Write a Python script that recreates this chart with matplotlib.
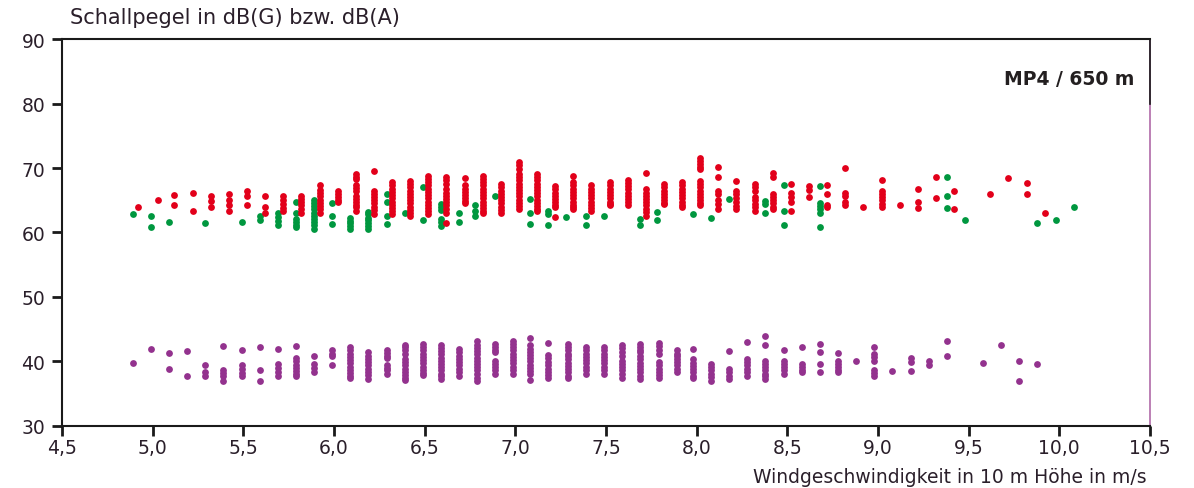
import matplotlib.pyplot as plt

# Schallpegel-Messungen, je Windgeschwindigkeitsklasse eine Spalte
red_x = [4.92, 5.03, 5.12, 5.22, 5.32, 5.42, 5.52, 5.62, 5.72, 5.82, 5.92, 6.02,
         6.12, 6.22, 6.32, 6.42, 6.52, 6.62, 6.72, 6.82, 6.92, 7.02, 7.12, 7.22,
         7.32, 7.42, 7.52, 7.62, 7.72, 7.82, 7.92, 8.02, 8.12, 8.22, 8.32, 8.42,
         8.52, 8.62, 8.72, 8.82, 8.92, 9.02, 9.12, 9.22, 9.32, 9.42, 9.62, 9.72,
         9.82, 9.92]
red_y = [
    [63.9],
    [65.1],
    [65.8, 64.3],
    [66.2, 63.3],
    [65.7, 64.9, 64.0],
    [65.9, 65.1, 64.2, 63.3],
    [66.4, 65.7, 64.3],
    [65.6, 64.0, 63.0],
    [65.6, 65.0, 64.4, 63.8, 63.4],
    [65.7, 65.2, 64.7, 64.2, 63.7, 63.1],
    [67.3, 66.6, 66.2, 65.6, 65.1, 64.6, 64.1, 63.6, 63.1],
    [66.5, 66.0, 65.5, 65.0, 64.7],
    [69.0, 68.6, 68.3, 67.4, 66.9, 66.5, 65.7, 65.2, 64.8, 64.3, 63.9, 63.4],
    [69.5, 66.5, 66.0, 65.5, 65.0, 64.5, 64.0, 63.5, 62.9],
    [67.8, 67.3, 66.8, 66.3, 65.8, 65.3, 64.8, 64.3, 63.8, 63.4, 62.9],
    [68.0, 67.5, 67.0, 66.5, 66.0, 65.5, 65.0, 64.5, 64.0, 63.5, 63.0, 62.6],
    [68.8, 68.3, 67.8, 67.3, 66.8, 66.3, 65.8, 65.3, 64.8, 64.3, 63.8, 63.3, 62.9],
    [68.6, 68.1, 67.5, 66.7, 66.2, 65.7, 65.2, 64.7, 64.2, 63.7, 63.1, 61.5],
    [68.4, 67.3, 66.8, 66.3, 65.8, 65.3, 64.9, 64.5],
    [68.8, 68.3, 67.8, 67.3, 66.8, 66.3, 65.8, 65.3, 64.8, 64.3, 63.8, 63.4, 63.1],
    [67.5, 67.0, 66.5, 66.0, 65.5, 65.0, 64.5, 64.0, 63.5, 63.1],
    [70.9, 70.4, 69.9, 69.1, 68.6, 68.1, 67.6, 67.1, 66.6, 66.1, 65.6, 65.1, 64.6,
     64.1, 63.6],
    [69.1, 68.6, 68.1, 67.6, 67.1, 66.6, 66.1, 65.6, 65.1, 64.6, 64.1, 63.7, 63.4],
    [67.2, 66.7, 66.2, 65.7, 65.2, 64.7, 64.3, 64.0, 62.4],
    [68.8, 67.8, 67.3, 66.8, 66.3, 65.8, 65.3, 64.8, 64.3, 63.9, 63.6],
    [67.3, 66.8, 66.3, 65.8, 65.3, 64.8, 64.3, 63.8, 63.4],
    [67.8, 67.3, 66.8, 66.3, 65.8, 65.3, 64.8, 64.4, 64.2],
    [68.2, 67.7, 67.2, 66.7, 66.2, 65.7, 65.2, 64.7, 64.2],
    [69.2, 66.7, 66.2, 65.7, 65.2, 64.7, 64.2, 63.7, 63.2, 62.6],
    [67.5, 67.0, 66.5, 66.0, 65.5, 65.0, 64.6, 64.4],
    [67.8, 67.3, 66.8, 66.3, 65.8, 65.3, 64.8, 64.3, 63.9],
    [71.5, 71.1, 70.7, 70.2, 69.8, 68.0, 67.5, 67.0, 66.5, 66.0, 65.5, 65.0, 64.6,
     64.2],
    [70.1, 68.6, 66.5, 66.0, 65.0, 64.4, 63.7],
    [68.0, 66.5, 65.9, 65.3, 64.7, 64.1, 63.6],
    [67.5, 67.0, 66.5, 65.5, 65.0, 64.4, 63.9, 63.4],
    [69.3, 68.6, 66.0, 65.5, 65.0, 64.5, 64.0, 63.6],
    [67.5, 66.2, 65.5, 64.7, 63.3],
    [67.2, 66.6, 65.5],
    [67.4, 66.0, 64.2, 63.9],
    [70.0, 66.2, 65.7, 64.7, 64.2],
    [63.9],
    [68.1, 66.5, 66.0, 65.5, 65.0, 64.4, 63.9],
    [64.2],
    [66.7, 64.8, 63.8],
    [68.6, 65.4],
    [66.5, 63.6],
    [66.0],
    [68.4],
    [67.7, 66.0],
    [63.0],
]

green_x = [4.89, 4.99, 5.09, 5.29, 5.49, 5.59, 5.69, 5.79, 5.89, 5.99, 6.09, 6.19,
           6.29, 6.39, 6.49, 6.59, 6.69, 6.78, 6.89, 7.08, 7.18, 7.28, 7.39, 7.49,
           7.69, 7.78, 7.98, 8.08, 8.18, 8.38, 8.48, 8.68, 9.38, 9.48, 9.88, 9.98,
           10.08]
green_y = [
    [62.8],
    [62.6, 60.9],
    [61.7],
    [61.4],
    [61.7],
    [62.6, 61.9],
    [63.0, 62.4, 61.8, 61.1],
    [64.8, 63.1, 62.1, 61.7, 61.2, 60.8],
    [65.0, 64.6, 64.1, 63.6, 63.1, 62.6, 62.1, 61.6, 61.1, 60.6],
    [64.5, 62.6, 61.3],
    [62.2, 61.8, 61.4, 61.0, 60.5],
    [63.2, 62.8, 62.3, 61.9, 61.4, 61.0, 60.6],
    [65.9, 64.8, 62.6, 61.3],
    [63.0],
    [67.1, 62.0],
    [64.4, 64.0, 63.5, 62.1, 61.6, 61.0],
    [63.1, 61.6],
    [64.3, 63.4, 62.5],
    [65.7],
    [65.2, 63.1, 61.3],
    [63.4, 62.9, 61.1],
    [62.4],
    [62.5, 61.2],
    [62.5],
    [62.1, 61.2],
    [63.2, 62.0],
    [62.9],
    [62.3],
    [65.2],
    [64.9, 64.4, 63.1],
    [67.4, 63.3, 61.2],
    [67.2, 64.6, 64.1, 63.6, 63.1, 60.8],
    [68.6, 65.6, 63.8],
    [62.0],
    [61.4],
    [62.0],
    [63.9],
]

purple_x = [4.89, 4.99, 5.09, 5.19, 5.29, 5.39, 5.49, 5.59, 5.69, 5.79, 5.89, 5.99,
            6.09, 6.19, 6.29, 6.39, 6.49, 6.59, 6.69, 6.79, 6.89, 6.99, 7.08, 7.18,
            7.29, 7.39, 7.49, 7.59, 7.69, 7.79, 7.89, 7.98, 8.08, 8.18, 8.28, 8.38,
            8.48, 8.58, 8.68, 8.78, 8.88, 8.98, 9.08, 9.18, 9.28, 9.38, 9.58, 9.68,
            9.78, 9.88]
purple_y = [
    [39.7],
    [41.9],
    [41.3, 38.8],
    [41.6, 37.7],
    [39.5, 38.4, 37.7],
    [42.4, 38.7, 38.2, 37.8, 37.0],
    [41.8, 39.4, 38.8, 38.2, 37.7],
    [42.2, 38.7, 37.0],
    [42.0, 39.6, 39.0, 38.4, 37.7],
    [42.4, 40.5, 40.0, 39.5, 39.0, 38.5, 38.0, 37.7],
    [40.8, 39.6, 39.0, 38.3],
    [41.7, 41.2, 40.9, 39.5],
    [42.2, 41.7, 41.2, 40.7, 40.2, 39.7, 39.2, 38.7, 38.2, 37.8, 37.4],
    [41.4, 40.9, 40.4, 39.9, 39.4, 38.9, 38.4, 37.9, 37.3],
    [41.8, 41.3, 40.9, 40.6, 39.5, 39.0, 38.6, 38.1],
    [42.6, 42.2, 41.7, 41.2, 40.4, 39.9, 39.4, 38.9, 38.4, 37.9, 37.5, 37.1],
    [42.7, 42.2, 41.7, 41.2, 40.7, 40.2, 39.7, 39.2, 38.7, 38.2, 37.9],
    [42.6, 42.1, 41.6, 41.1, 40.6, 40.1, 39.6, 39.1, 38.6, 38.1, 37.7, 37.3],
    [41.9, 41.4, 40.9, 40.4, 39.9, 39.4, 38.9, 38.4, 37.8],
    [43.1, 42.6, 42.1, 41.6, 41.1, 40.6, 40.1, 39.6, 39.1, 38.6, 38.1, 37.5, 37.0],
    [42.7, 42.3, 41.8, 41.4, 40.1, 39.6, 39.1, 38.6, 38.1],
    [43.2, 42.7, 42.2, 41.7, 41.2, 40.7, 40.2, 39.7, 39.2, 38.7, 38.1],
    [43.7, 42.5, 42.0, 41.5, 41.0, 40.5, 40.0, 39.5, 39.0, 38.5, 38.1, 37.1],
    [42.8, 41.0, 40.6, 39.9, 39.4, 38.9, 38.4, 37.9, 37.5],
    [42.7, 42.2, 41.7, 41.2, 40.8, 40.3, 39.8, 39.3, 38.8, 38.3, 37.8, 37.4],
    [42.2, 41.7, 41.2, 40.7, 40.2, 39.7, 39.2, 38.7, 38.1],
    [42.2, 41.7, 41.2, 40.7, 40.2, 39.7, 39.2, 38.7, 38.1],
    [42.6, 42.1, 41.5, 40.9, 40.1, 39.6, 39.1, 38.6, 38.1, 37.5],
    [42.7, 42.2, 41.8, 41.4, 40.8, 40.3, 39.8, 39.3, 38.8, 38.3, 37.8, 37.3],
    [42.9, 42.4, 41.8, 41.2, 39.9, 39.4, 38.9, 38.4, 37.9, 37.5],
    [41.7, 41.2, 40.8, 40.4, 39.9, 39.4, 38.9, 38.4],
    [42.0, 40.3, 39.8, 39.3, 38.8, 38.3, 37.8, 37.5],
    [39.6, 39.1, 38.6, 38.1, 37.6, 37.0],
    [41.6, 38.8, 38.3, 37.8, 37.3],
    [43.0, 40.4, 39.9, 39.4, 38.9, 38.4, 37.8],
    [44.0, 42.5, 40.1, 39.6, 39.1, 38.6, 38.1, 37.7, 37.3],
    [41.8, 40.1, 39.6, 39.1, 38.6, 38.1],
    [42.3, 39.6, 39.1, 38.7, 38.3],
    [42.7, 41.5, 39.6, 38.3],
    [41.3, 40.1, 39.6, 39.1, 38.7, 38.3],
    [40.0],
    [42.2, 41.2, 40.7, 40.1, 38.6, 38.2, 37.8],
    [38.5],
    [40.6, 39.9, 38.5],
    [40.1, 39.5],
    [43.1, 40.8],
    [39.7],
    [42.5],
    [40.1, 37.0],
    [39.6],
]

x_ticks = [4.5, 5.0, 5.5, 6.0, 6.5, 7.0, 7.5, 8.0, 8.5, 9.0, 9.5, 10.0, 10.5]
y_ticks = [30, 40, 50, 60, 70, 80, 90]


def Flatten(xs, ys):
    px, py = [], []
    for x, col in zip(xs, ys):
        for y in col:
            px.append(x)
            py.append(y)
    return px, py


plt.rcParams['font.family'] = ['DejaVu Sans']
TextColor = '#2a1f2a'

fig = plt.figure(figsize=(11.94, 4.89), dpi=100)
ax = fig.add_axes([0.052, 0.127, 0.911, 0.791])

for xs, ys, col in [(purple_x, purple_y, '#93328e'),
                    (green_x, green_y, '#00973f'),
                    (red_x, red_y, '#e2001a')]:
    px, py = Flatten(xs, ys)
    ax.scatter(px, py, s=24, color=col, linewidths=0, zorder=3)

ax.set_xlim(4.5, 10.5)
ax.set_ylim(30, 90)
ax.set_xticks(x_ticks)
ax.set_xticklabels([f'{t:.1f}'.replace('.', ',') for t in x_ticks])
ax.set_yticks(y_ticks)
ax.set_yticklabels([str(t) for t in y_ticks])
ax.tick_params(axis='both', direction='out', length=7, width=2, color='#1a1a1a',
               labelsize=13.5, labelcolor=TextColor)
ax.tick_params(axis='x', pad=2)
ax.tick_params(axis='y', pad=5)

for side in ['left', 'bottom', 'top']:
    ax.spines[side].set_linewidth(1.5)
    ax.spines[side].set_color('#1a1a1a')
ax.spines['right'].set_linewidth(1.2)
ax.spines['right'].set_color('#b06aa8')
ax.plot([10.5, 10.5], [80, 90], color='#1a1a1a', lw=1.2, clip_on=False, zorder=4)

fig.text(0.059, 0.963, 'Schallpegel in dB(G) bzw. dB(A)', fontsize=15,
         color=TextColor, ha='left', va='center')
fig.text(0.960, 0.024, 'Windgeschwindigkeit in 10 m Höhe in m/s', fontsize=13.5,
         color=TextColor, ha='right', va='center')
ax.text(0.986, 0.897, 'MP4 / 650 m', transform=ax.transAxes, fontsize=13.5,
        fontweight='bold', color='#231f20', ha='right', va='center')

fig.savefig('out.png', dpi=100)
